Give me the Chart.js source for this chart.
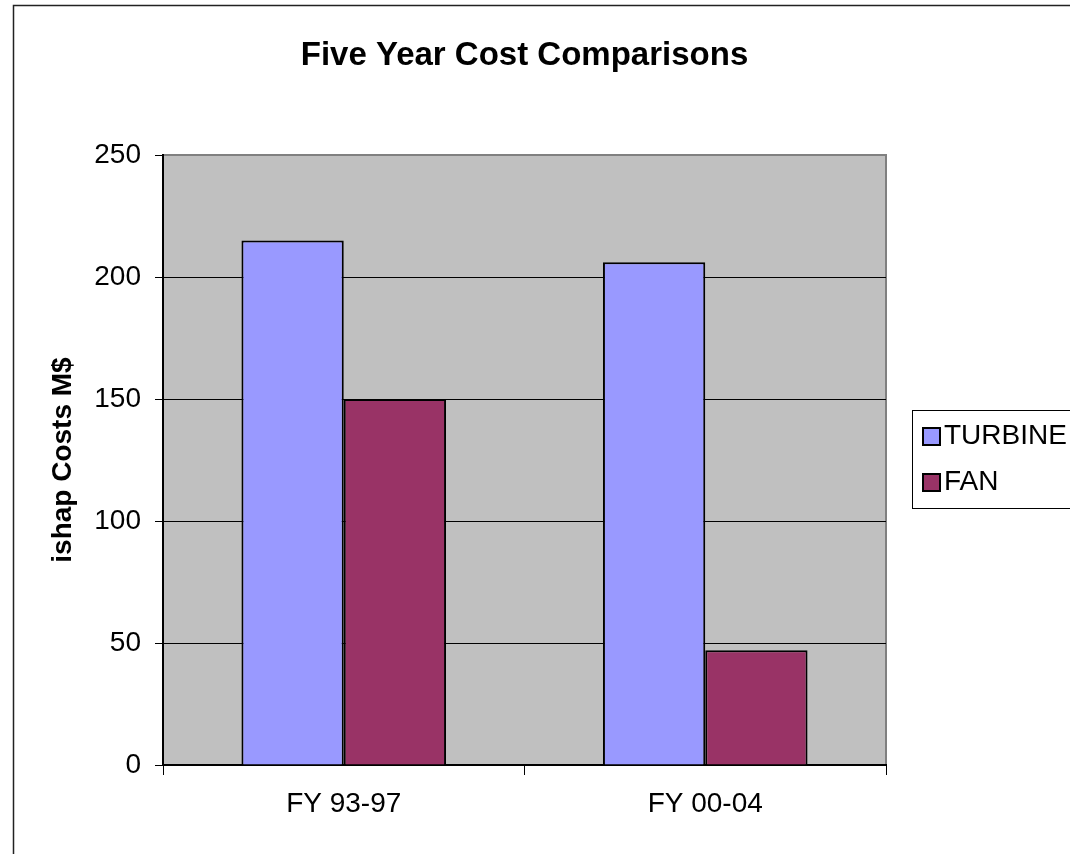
<!DOCTYPE html>
<html>
<head>
<meta charset="utf-8">
<script src="https://cdn.jsdelivr.net/npm/chart.js@4.4.1/dist/chart.umd.min.js"></script>
<style>
  html, body { margin: 0; padding: 0; background: #fff; }
  #wrap { width: 1070px; height: 854px; }
</style>
</head>
<body>
<div id="wrap"><canvas id="costChart"></canvas></div>
<script>
const categories = ["FY 93-97", "FY 00-04"];
const turbine = [215, 206];
const fan = [150, 47];
const yTicks = [0, 50, 100, 150, 200, 250];

const FONT = "'Liberation Sans', Arial, sans-serif";

// grey plot background, top/right plot edges and outer frame
const plotBackground = {
    id: "plotBackground",
    beforeDraw(chart) {
        const { ctx, chartArea: a } = chart;
        ctx.save();
        ctx.fillStyle = "#C0C0C0";
        ctx.fillRect(a.left, a.top, a.right - a.left, a.bottom - a.top);
        ctx.strokeStyle = "#808080";
        ctx.lineWidth = 2;
        ctx.beginPath();
        ctx.moveTo(a.left, a.top);
        ctx.lineTo(a.right, a.top);
        ctx.lineTo(a.right, a.bottom);
        ctx.stroke();
        // outer frame
        ctx.strokeStyle = "#222";
        ctx.lineWidth = 1.5;
        ctx.beginPath();
        ctx.moveTo(13.5, chart.height);
        ctx.lineTo(13.5, 5.5);
        ctx.lineTo(chart.width, 5.5);
        ctx.stroke();
        ctx.restore();
    }
};

// boxed legend on the right, running off the edge
const boxLegend = {
    id: "boxLegend",
    afterDraw(chart) {
        const { ctx } = chart;
        const x = 912.5, y = 410.5, w = 200, h = 98;
        ctx.save();
        ctx.fillStyle = "#fff";
        ctx.fillRect(x, y, w, h);
        ctx.strokeStyle = "#000";
        ctx.lineWidth = 1;
        ctx.strokeRect(x, y, w, h);
        ctx.font = "28px " + FONT;
        ctx.textBaseline = "middle";
        chart.data.datasets.forEach((ds, i) => {
            const cy = 436 + i * 46;
            ctx.fillStyle = ds.backgroundColor;
            ctx.fillRect(923, cy - 8, 17, 17);
            ctx.lineWidth = 2;
            ctx.strokeStyle = "#000";
            ctx.strokeRect(923, cy - 8, 17, 17);
            ctx.fillStyle = "#000";
            ctx.fillText(ds.label, 944, cy);
        });
        ctx.restore();
    }
};

new Chart(document.getElementById("costChart"), {
    type: "bar",
    data: {
        labels: categories,
        datasets: [
            {
                label: "TURBINE",
                data: turbine,
                backgroundColor: "#9999FF",
                borderColor: "#000",
                borderWidth: 2,
                borderSkipped: "bottom"
            },
            {
                label: "FAN",
                data: fan,
                backgroundColor: "#993366",
                borderColor: "#000",
                borderWidth: 2,
                borderSkipped: "bottom"
            }
        ]
    },
    options: {
        responsive: true,
        maintainAspectRatio: false,
        animation: false,
        datasets: {
            bar: { categoryPercentage: 0.566, barPercentage: 1 }
        },
        layout: {
            padding: { left: 13, right: 184, top: 0, bottom: 0 }
        },
        plugins: {
            legend: { display: false },
            tooltip: { enabled: false },
            title: {
                display: true,
                fullSize: false,
                text: "Five Year Cost Comparisons",
                color: "#000",
                font: { family: FONT, size: 33, weight: "bold" },
                padding: { top: 36, bottom: 79.4 }
            }
        },
        scales: {
            x: {
                offset: true,
                afterFit: scale => { scale.height = 89; },
                grid: {
                    offset: true,
                    drawOnChartArea: false,
                    tickLength: 10,
                    color: "#000"
                },
                border: { color: "#000", width: 2 },
                ticks: {
                    color: "#000",
                    padding: 12,
                    font: { family: FONT, size: 28 }
                }
            },
            y: {
                min: 0,
                max: 250,
                afterFit: scale => { scale.width = 150; },
                afterBuildTicks: scale => {
                    scale.ticks = yTicks.map(v => ({ value: v }));
                },
                grid: {
                    color: c => (c.tick && c.tick.value === 250 ? "#808080" : "#000"),
                    tickColor: "#000",
                    tickLength: 8
                },
                border: { color: "#000", width: 2 },
                ticks: {
                    color: "#000",
                    padding: 14,
                    font: { family: FONT, size: 28 }
                },
                title: {
                    display: true,
                    text: "ishap Costs M$",
                    color: "#000",
                    font: { family: FONT, size: 28, weight: "bold" },
                    padding: { top: 33, bottom: 0 }
                }
            }
        }
    },
    plugins: [plotBackground, boxLegend]
});
</script>
</body>
</html>
